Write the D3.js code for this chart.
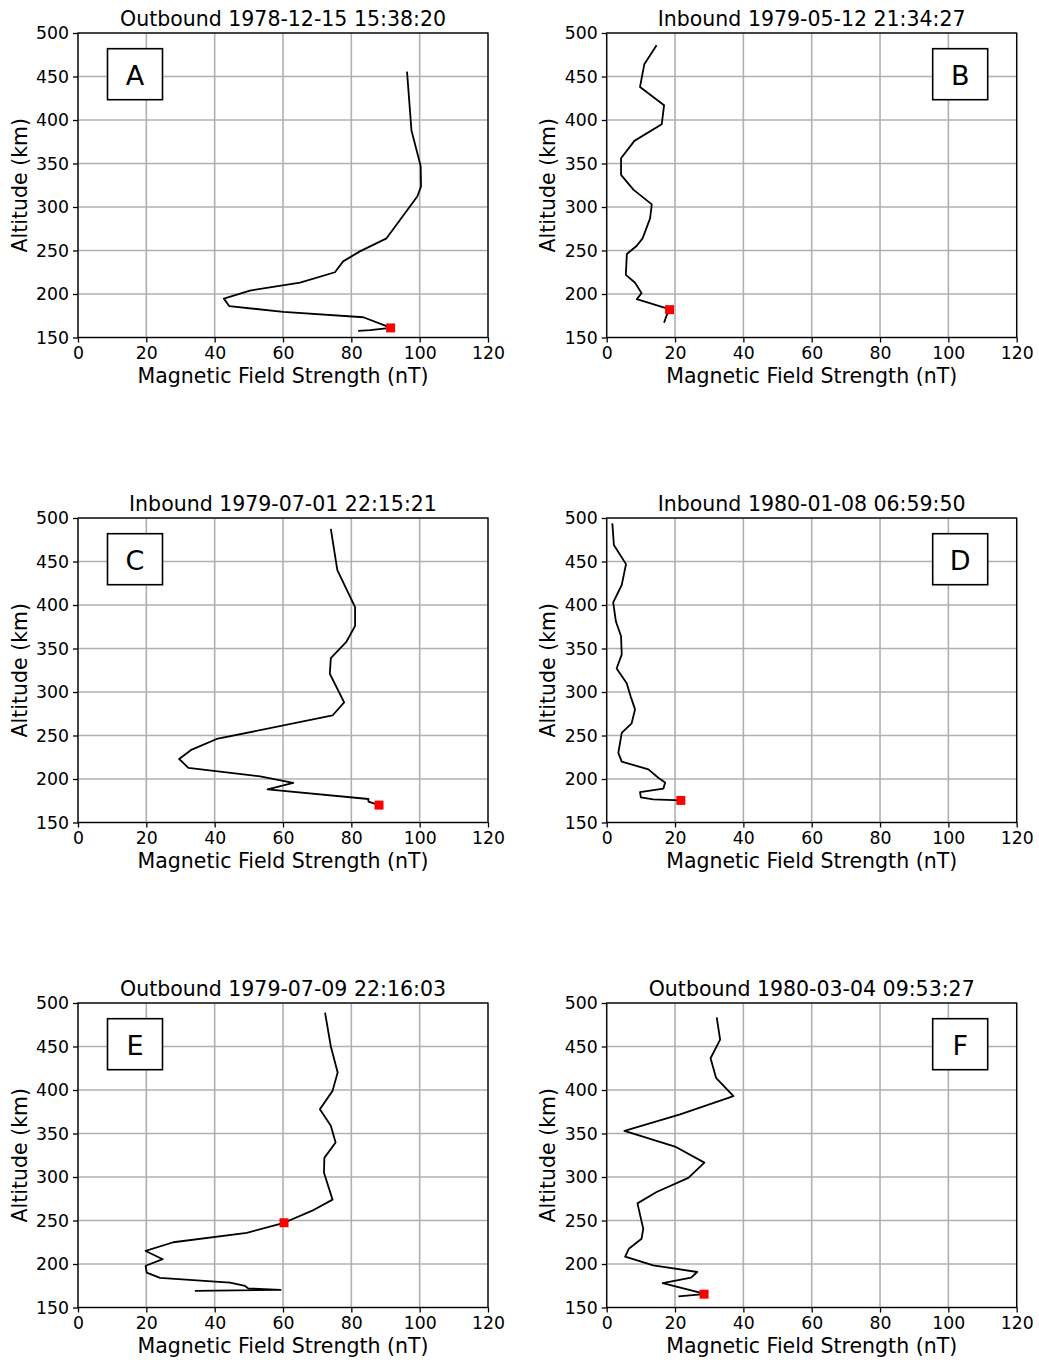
<!DOCTYPE html>
<html>
<head>
<meta charset="utf-8">
<script src="https://cdn.jsdelivr.net/npm/d3@7"></script>
<style>
  html, body { margin: 0; padding: 0; background: #fff; }
  svg { display: block; font-family: "DejaVu Sans", sans-serif; }
</style>
</head>
<body>
<svg id="chart" width="1039" height="1362"></svg>
<script>
// ---------------- DATA ----------------
const xTicks = [0, 20, 40, 60, 80, 100, 120];
const yTicks = [150, 200, 250, 300, 350, 400, 450, 500];

const titles = [
  "Outbound 1978-12-15 15:38:20",
  "Inbound 1979-05-12 21:34:27",
  "Inbound 1979-07-01 22:15:21",
  "Inbound 1980-01-08 06:59:50",
  "Outbound 1979-07-09 22:16:03",
  "Outbound 1980-03-04 09:53:27"
];
const panelLetters = ["A", "B", "C", "D", "E", "F"];

// Panel A
const fieldA = [96.3, 97.6, 100.3, 100.4, 99.3, 90.3, 82.5, 77.6, 75.2, 65.0, 50.3, 42.7, 44.3, 60.1, 83.5, 90.3, 91.5, 85.5, 82.0];
const altA   = [455.6, 388, 347, 323.6, 312, 264, 249, 237.5, 225, 213, 204, 194.7, 186, 179.5, 173.3, 163, 161, 158.4, 157.7];
// Panel B
const fieldB = [14.6, 11.0, 9.75, 16.8, 16.1, 8.1, 4.2, 4.2, 7.8, 13.2, 12.7, 10.5, 8.8, 5.9, 5.6, 8.3, 10.2, 8.8, 17.1, 18.4, 17.4, 16.8];
const altB   = [486, 464, 438, 417, 395, 376, 356, 337, 320, 303, 287, 264, 255.5, 246, 222, 213, 201, 194, 184, 182, 174, 167];
// Panel C
const fieldC = [74.0, 75.9, 81.1, 81.1, 78.6, 74.0, 73.7, 77.9, 74.5, 40.6, 33.3, 29.6, 32.3, 53.3, 63.0, 55.5, 85.0, 85.0, 88.1];
const altC   = [487.4, 440, 397.5, 376, 358, 339, 321, 288, 273, 246, 233.8, 223, 212.8, 203, 195.6, 188, 177, 174, 170];
// Panel D
const fieldD = [1.65, 2.1, 5.65, 4.4, 1.9, 2.7, 4.2, 4.4, 2.9, 5.85, 7.0, 8.3, 7.3, 4.4, 3.4, 4.4, 12.2, 15.1, 17.1, 16.6, 9.75, 10.0, 13.6, 21.7];
const altD   = [494, 469, 447, 423, 403, 381, 364, 343, 327, 310, 295, 280, 264, 253, 230, 220, 211, 201.5, 196, 189, 185, 179, 176.6, 175.4];
// Panel E
const fieldE = [72.3, 74.0, 76.0, 74.5, 70.8, 74.0, 75.4, 72.1, 72.0, 74.5, 68.4, 60.3, 49.4, 27.9, 19.8, 24.8, 19.8, 20.1, 24.0, 44.5, 48.9, 49.8, 59.3, 34.2];
const altE   = [489, 450, 420, 399, 378, 359, 339.7, 322, 305, 274, 261, 247.4, 235.8, 225, 215, 205.5, 198, 190, 184, 178.7, 174.8, 172, 170.3, 169];
// Panel F
const fieldF = [32.2, 33.2, 30.4, 32.0, 37.1, 21.5, 5.2, 20.0, 28.6, 23.9, 14.6, 9.0, 10.7, 10.2, 6.5, 5.4, 13.6, 26.5, 24.7, 16.4, 27.3, 28.5, 21.0];
const altF   = [483.6, 458, 436.5, 414, 393, 372, 353, 335, 316.5, 299, 282.7, 269.7, 240.6, 229, 217.6, 208.5, 198.5, 190.8, 184.4, 177.9, 167, 165.3, 162.7];

// red square markers (field, altitude)
const markerField = [91.5, 18.4, 88.1, 21.7, 60.3, 28.5];
const markerAlt   = [161, 182, 170, 175.4, 247.4, 165.3];

const fields = [fieldA, fieldB, fieldC, fieldD, fieldE, fieldF];
const alts   = [altA, altB, altC, altD, altE, altF];

// ---------------- LAYOUT ----------------
const svg = d3.select("#chart");
const colX = [78, 606.7];
const rowY = [33, 518, 1003];
const W = 410, H = 304.5;

fields.forEach((fv, i) => {
  const col = i % 2, row = Math.floor(i / 2);
  const g = svg.append("g").attr("transform", `translate(${colX[col]},${rowY[row]})`);
  const x = d3.scaleLinear().domain([0, 120]).range([0, W]);
  const y = d3.scaleLinear().domain([150, 500]).range([H, 0]);

  // grid
  g.append("g").selectAll("line").data(xTicks).join("line")
    .attr("x1", d => x(d)).attr("x2", d => x(d)).attr("y1", 0).attr("y2", H)
    .attr("stroke", "#b0b0b0").attr("stroke-width", 1.6);
  g.append("g").selectAll("line").data(yTicks).join("line")
    .attr("y1", d => y(d)).attr("y2", d => y(d)).attr("x1", 0).attr("x2", W)
    .attr("stroke", "#b0b0b0").attr("stroke-width", 1.6);

  // data line
  const pts = fv.map((v, k) => [v, alts[i][k]]);
  g.append("path").datum(pts)
    .attr("d", d3.line().x(d => x(d[0])).y(d => y(d[1])))
    .attr("fill", "none").attr("stroke", "#000").attr("stroke-width", 1.8)
    .attr("stroke-linejoin", "round");

  // marker
  const ms = 9;
  g.append("rect")
    .attr("x", x(markerField[i]) - ms / 2).attr("y", y(markerAlt[i]) - ms / 2)
    .attr("width", ms).attr("height", ms).attr("fill", "#ff0000");

  // axes
  const xa = g.append("g").attr("transform", `translate(0,${H})`)
    .call(d3.axisBottom(x).tickValues(xTicks).tickSize(5).tickPadding(4).tickFormat(d3.format("d")));
  const ya = g.append("g")
    .call(d3.axisLeft(y).tickValues(yTicks).tickSize(5).tickPadding(4).tickFormat(d3.format("d")));
  [xa, ya].forEach(a => {
    a.select(".domain").remove();
    a.selectAll("line").attr("stroke", "#000").attr("stroke-width", 1.3);
    a.selectAll("text").attr("font-size", 17.3).attr("fill", "#000")
      .attr("font-family", "DejaVu Sans, sans-serif");
  });

  // frame
  g.append("rect").attr("x", 0).attr("y", 0).attr("width", W).attr("height", H)
    .attr("fill", "none").attr("stroke", "#000").attr("stroke-width", 1.3);

  // title
  g.append("text").attr("x", W / 2).attr("y", -7.5).attr("text-anchor", "middle")
    .attr("font-size", 20.5).text(titles[i]);

  // axis labels
  g.append("text").attr("x", W / 2).attr("y", H + 45.5).attr("text-anchor", "middle")
    .attr("font-size", 20.5).text("Magnetic Field Strength (nT)");
  g.append("text").attr("transform", `translate(${-51.5},${H / 2}) rotate(-90)`)
    .attr("text-anchor", "middle").attr("font-size", 20.5).text("Altitude (km)");

  // letter box
  const bx = col === 0 ? 29.5 : W - 84;
  const by = 15.7;
  g.append("rect").attr("x", bx).attr("y", by).attr("width", 55).attr("height", 51)
    .attr("fill", "#fff").attr("stroke", "#000").attr("stroke-width", 1.6);
  g.append("text").attr("x", bx + 27.5).attr("y", by + 36)
    .attr("text-anchor", "middle")
    .attr("font-size", 27).text(panelLetters[i]);
});
</script>
</body>
</html>
